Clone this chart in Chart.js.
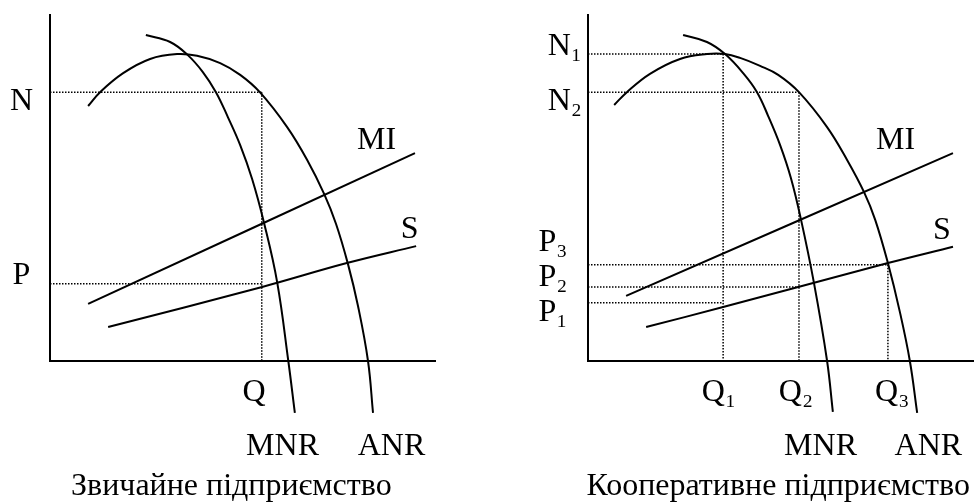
<!DOCTYPE html>
<html>
<head>
<meta charset="utf-8">
<script src="https://cdn.jsdelivr.net/npm/chart.js@4/dist/chart.umd.min.js"></script>
<style>
  html, body { margin: 0; padding: 0; background: #fff; }
  #wrap { position: relative; width: 974px; height: 502px; }
  canvas { position: absolute; top: 0; }
  #ord { left: 0; }
  #coop { left: 487px; }
</style>
</head>
<body>
<div id="wrap">
  <canvas id="ord" width="487" height="502"></canvas>
  <canvas id="coop" width="487" height="502"></canvas>
</div>
<script>
// Both panels: quantity on x (0..100), price / income on y (0..100).

// Ordinary enterprise.
const ordAnrX = [9.9, 13.0, 19.0, 26.0, 33.0, 38.2, 44.2, 49.4, 54.5, 61.6, 66.8, 71.2, 74.3, 77.4, 80.0, 82.6, 83.9];
const ordAnrY = [73.7, 77.7, 83.2, 87.3, 88.7, 88.2, 86.1, 82.7, 77.7, 67.6, 58.1, 48.3, 39.6, 28.0, 15.9, 0, -15.0];
const ordMnrX = [24.9, 31.2, 35.8, 39.7, 43.1, 46.2, 49.4, 52.5, 55.6, 59.0, 61.9, 63.6];
const ordMnrY = [94.2, 92.2, 88.4, 83.5, 77.7, 70.5, 62.4, 52.6, 39.9, 22.8, 0, -15.0];
const ordMiX = [9.9, 94.8];
const ordMiY = [16.5, 60.1];
const ordSX = [15.1, 55.1, 77.1, 95.1];
const ordSY = [9.8, 21.4, 28.3, 33.2];
const ordQ = [55.0];                 // Q
const ordLevels = [77.7, 22.3];      // N, P
const ordLevelQ = [0, 0];
const ordNLabels = ['N'];
const ordNLabelAt = [74.9];
const ordPLabels = ['P'];
const ordPLabelAt = [24.6];
const ordQLabels = ['Q'];
const ordQLabelAt = [53.0];

// Cooperative enterprise.
const coopAnrX = [6.8, 10.1, 16.1, 23.9, 30.9, 35.6, 39.5, 44.7, 49.4, 54.8, 62.1, 67.3, 71.7, 74.6, 77.9, 81.0, 83.6, 85.5];
const coopAnrY = [74.0, 77.7, 83.0, 87.3, 88.7, 88.7, 87.6, 85.3, 82.7, 77.7, 67.6, 58.1, 48.8, 40.8, 28.3, 14.2, 0, -15.0];
const coopMnrX = [24.7, 30.9, 35.6, 40.3, 43.9, 46.8, 49.9, 52.7, 55.3, 58.7, 62.1, 63.6];
const coopMnrY = [94.2, 92.2, 88.7, 83.2, 77.7, 70.8, 62.4, 52.9, 41.0, 22.5, 0, -14.7];
const coopMiX = [9.9, 94.8];
const coopMiY = [18.8, 60.1];
const coopSX = [15.1, 35.1, 54.6, 77.9, 94.8];
const coopSY = [9.8, 15.6, 21.4, 28.3, 33.0];
const coopQ = [35.1, 54.8, 77.9];                 // Q1, Q2, Q3
const coopLevels = [88.7, 77.7, 27.8, 21.4, 16.8]; // N1, N2, P3, P2, P1
const coopLevelQ = [0, 1, 2, 1, 0];
const coopNLabels = ['N₁', 'N₂'];
const coopNLabelAt = [91.0, 74.9];
const coopPLabels = ['P₃', 'P₂', 'P₁'];
const coopPLabelAt = [34.1, 24.0, 13.9];
const coopQLabels = ['Q₁', 'Q₂', 'Q₃'];
const coopQLabelAt = [34.0, 54.0, 79.0];

const FONT = {family: "'Liberation Serif', 'Times New Roman', serif", size: 32};

const pts = (xs, ys) => xs.map((x, i) => ({x, y: ys[i]}));

function drawPanel(id, p) {
  const curve = (xs, ys) => ({
    data: pts(xs, ys), borderColor: '#000', borderWidth: 2,
    tension: 0.4, pointRadius: 0, clip: false,
  });
  const dotted = (xs, ys) => ({
    data: pts(xs, ys), borderColor: '#000', borderWidth: 1.5,
    borderDash: [1.5, 1.5], tension: 0, pointRadius: 0, clip: false,
  });

  // Guide lines: each level runs across to its Q, each Q drops from its highest level.
  const guides = [];
  p.levels.forEach((lv, i) => guides.push(dotted([0, p.q[p.levelQ[i]]], [lv, lv])));
  p.q.forEach((q, k) => {
    const top = Math.max(...p.levels.filter((lv, i) => p.levelQ[i] === k));
    guides.push(dotted([q, q], [top, 0]));
  });

  const textLabels = {
    id: 'textLabels',
    afterDraw: (chart) => {
      const {ctx, scales: {x, y}} = chart;
      ctx.save();
      ctx.fillStyle = '#000';
      ctx.font = FONT.size + 'px ' + FONT.family;
      ctx.textAlign = 'center';
      ctx.textBaseline = 'middle';
      p.texts.forEach(([t, vx, vy]) => ctx.fillText(t, x.getPixelForValue(vx), y.getPixelForValue(vy)));
      ctx.restore();
    },
  };

  const fixedTicks = (at) => (scale) => { scale.ticks = at.map(value => ({value})); };
  // Keep the label overhang from pushing the plot area around.
  const noOverhang = (s) => { s.paddingTop = 0; s.paddingBottom = 0; s.paddingLeft = 0; s.paddingRight = 0; };

  new Chart(document.getElementById(id), {
    type: 'line',
    data: {
      datasets: [
        curve(p.anrX, p.anrY),
        curve(p.mnrX, p.mnrY),
        curve(p.miX, p.miY),
        curve(p.sX, p.sY),
        ...guides,
      ],
    },
    options: {
      responsive: false,
      animation: false,
      layout: {padding: {top: 15, right: p.padRight, left: 0, bottom: 0}},
      elements: {line: {capBezierPoints: false}},
      plugins: {legend: {display: false}, tooltip: {enabled: false}},
      scales: {
        x: {
          type: 'linear', min: 0, max: 100,
          grid: {display: false, drawTicks: false},
          border: {display: true, color: '#000', width: 2},
          ticks: {autoSkip: false, maxRotation: 0, padding: 12, color: '#000', font: FONT,
            callback: (v, i) => p.qLabels[i]},
          afterBuildTicks: fixedTicks(p.qLabelAt),
          afterFit: (s) => { s.height = 141; noOverhang(s); },
        },
        // Axis line and the N labels.
        y: {
          type: 'linear', position: 'left', min: 0, max: 100, weight: 1,
          grid: {display: false, drawTicks: false},
          border: {display: true, color: '#000', width: 2},
          ticks: {autoSkip: false, padding: p.nPad, color: '#000', font: FONT,
            callback: (v, i) => p.nLabels[i]},
          afterBuildTicks: fixedTicks(p.nLabelAt),
          afterFit: (s) => { s.width = p.axisLeft; noOverhang(s); },
        },
        // P labels, left-aligned at their own indent.
        yP: {
          type: 'linear', position: 'left', min: 0, max: 100, weight: 0,
          grid: {display: false, drawTicks: false},
          border: {display: false},
          ticks: {autoSkip: false, mirror: true, padding: p.pLeft - p.axisLeft, color: '#000', font: FONT,
            callback: (v, i) => p.pLabels[i]},
          afterBuildTicks: fixedTicks(p.pLabelAt),
          afterFit: (s) => { s.width = 0; noOverhang(s); },
        },
      },
    },
    plugins: [textLabels],
  });
}

drawPanel('ord', {
  anrX: ordAnrX, anrY: ordAnrY, mnrX: ordMnrX, mnrY: ordMnrY,
  miX: ordMiX, miY: ordMiY, sX: ordSX, sY: ordSY,
  q: ordQ, levels: ordLevels, levelQ: ordLevelQ,
  nLabels: ordNLabels, nLabelAt: ordNLabelAt, pLabels: ordPLabels, pLabelAt: ordPLabelAt,
  qLabels: ordQLabels, qLabelAt: ordQLabelAt,
  axisLeft: 50, padRight: 52, nPad: 17, pLeft: 12.5,
  texts: [['MI', 84.8, 63.6], ['S', 93.4, 37.9], ['MNR', 60.4, -24.6], ['ANR', 88.7, -24.6],
    ['Звичайне підприємство', 47.1, -36.4]],
});

drawPanel('coop', {
  anrX: coopAnrX, anrY: coopAnrY, mnrX: coopMnrX, mnrY: coopMnrY,
  miX: coopMiX, miY: coopMiY, sX: coopSX, sY: coopSY,
  q: coopQ, levels: coopLevels, levelQ: coopLevelQ,
  nLabels: coopNLabels, nLabelAt: coopNLabelAt, pLabels: coopPLabels, pLabelAt: coopPLabelAt,
  qLabels: coopQLabels, qLabelAt: coopQLabelAt,
  axisLeft: 101, padRight: 1, nPad: 6, pLeft: 51.5,
  texts: [['MI', 79.9, 63.6], ['S', 91.9, 37.6], ['MNR', 60.4, -24.6], ['ANR', 88.4, -24.6],
    ['Кооперативне підприємство', 49.4, -36.4]],
});
</script>
</body>
</html>
